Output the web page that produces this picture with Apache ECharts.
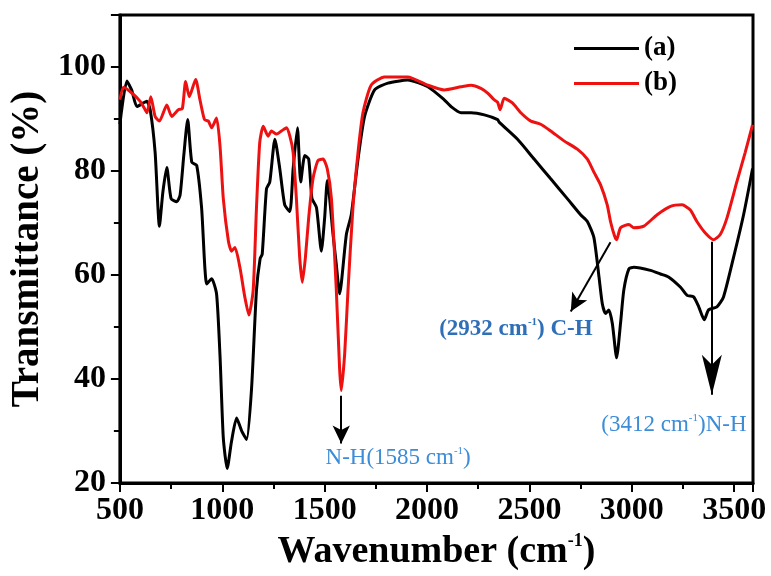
<!DOCTYPE html>
<html>
<head>
<meta charset="utf-8">
<script src="https://cdn.jsdelivr.net/npm/echarts@6/dist/echarts.min.js"></script>
<style>
	html, body { margin: 0; padding: 0; background: #fff; }
	#chart { width: 771px; height: 576px; }
</style>
</head>
<body>
<div id="chart"></div>
<script>
// FTIR spectra, [wavenumber cm-1, transmittance %]
const spectrumA = [
	[500, 89], [534, 97.3], [558, 95.5], [583, 92.4], [615, 93.1], [631, 93.4], [648, 91.8],
	[672, 83.6], [693, 69.4], [710, 76], [729, 80.7], [750, 74.7], [778, 74.1], [794, 75.4],
	[812, 83], [831, 89.9], [851, 81.7], [875, 81.1], [899, 72.9], [924, 58.3], [948, 59.3],
	[972, 56.4], [989, 44.4], [1005, 28.7], [1024, 22.8], [1045, 28], [1070, 32.5], [1095, 30],
	[1119, 28.4], [1143, 38.2], [1167, 57.1], [1185, 63.2], [1195, 64], [1216, 76.6], [1232, 77.9],
	[1257, 86.1], [1281, 80.4], [1305, 73.5], [1330, 72.2], [1346, 80.4], [1367, 88.3], [1383, 77.9],
	[1403, 83.0], [1422, 82.3], [1438, 74.7], [1460, 73], [1484, 64.6], [1500, 71.0], [1513, 78.2],
	[1541, 67.8], [1557, 62], [1573, 56.4], [1606, 67.8], [1630, 71.6], [1663, 82.3], [1695, 90.5],
	[1744, 95.6], [1809, 96.9], [1906, 97.5], [2004, 96.2], [2084, 93.7], [2117, 92.4], [2166, 91.2],
	[2215, 91.2], [2280, 90.8], [2345, 89.9], [2352, 89.4], [2442, 86.1], [2523, 82.3], [2604, 78.5],
	[2685, 74.7], [2750, 71.6], [2783, 70.3], [2815, 67.2], [2840, 59.6], [2856, 54.5], [2872, 52.6],
	[2888, 53.3], [2905, 50.7], [2926, 44.1], [2945, 50.7], [2961, 57.1], [2986, 61.2], [3010, 61.5],
	[3091, 60.9], [3140, 60.2], [3181, 59.6], [3237, 57.7], [3270, 56.1], [3302, 55.8], [3327, 53.9],
	[3354, 51.4], [3375, 53.3], [3416, 53.9], [3448, 55.8], [3497, 63.4], [3546, 71.6], [3590, 80.5]
];
const spectrumB = [
	[500, 93.7], [518, 96.1], [558, 95.0], [599, 93.4], [623, 91.8], [632, 91.2], [651, 94.3],
	[672, 90.5], [693, 89.6], [729, 92.7], [753, 90.5], [786, 91.8], [805, 92], [821, 97.2],
	[839, 94.3], [870, 97.6], [891, 93.7], [913, 89.9], [932, 89.6], [948, 88.3], [972, 90.2],
	[989, 84.8], [1005, 74.7], [1030, 66.5], [1045, 64.6], [1062, 65.3], [1086, 61.5], [1110, 55.8],
	[1130, 52.3], [1151, 57.1], [1167, 72.9], [1183, 85.5], [1200, 88.6], [1224, 86.7], [1240, 87.7],
	[1265, 87.1], [1289, 87.7], [1313, 88.3], [1330, 86.7], [1346, 83.6], [1362, 74.7], [1378, 63.4],
	[1391, 58.6], [1406, 63.4], [1422, 71.0], [1443, 78.5], [1467, 82.0], [1492, 82.3], [1513, 80.4],
	[1533, 74.7], [1557, 57.1], [1573, 42], [1581, 37.8], [1598, 45], [1614, 57.1], [1638, 72.9],
	[1663, 83.6], [1687, 91.2], [1727, 96.5], [1792, 98.1], [1906, 98.1], [2004, 96.5], [2084, 95.6],
	[2166, 96.2], [2215, 96.5], [2263, 95.9], [2296, 95.0], [2328, 93.7], [2345, 93.2], [2357, 91.8],
	[2377, 94.0], [2417, 93.1], [2458, 91.2], [2507, 89.6], [2555, 89.0], [2604, 87.7], [2669, 85.8],
	[2734, 84.2], [2783, 82.3], [2815, 79.8], [2848, 77.3], [2880, 73.5], [2896, 70.3], [2916, 67.5],
	[2926, 66.8], [2945, 69.1], [2986, 69.7], [3010, 69.1], [3059, 69.4], [3124, 71.6], [3189, 73.2],
	[3246, 73.5], [3286, 72.5], [3318, 70.3], [3359, 68.1], [3400, 66.8], [3432, 67.8], [3465, 71.0],
	[3513, 77.9], [3554, 83.6], [3590, 88.9]
];
const seriesNames = ['(a)', '(b)'];

// arrows: [from, to] in data coordinates
const arrowLines = [
	[[1581, 36.8], [1581, 27.6]],
	[[2896, 66.3], [2702, 53.0]],
	[[3391, 66.4], [3391, 37.0]]
];
// annotation texts: [wavenumber, transmittance, main text, sup, tail]
const peakLabels = [
	[1859, 24.9, 'N-H(1585 cm', '-1', ')'],
	[2434, 49.7, '(2932 cm', '-1', ') C-H'],
	[3206, 31.2, '(3412 cm', '-1', ')N-H']
];

const serif = '"Liberation Serif", "Times New Roman", serif';
const chart = echarts.init(document.getElementById('chart'), null, { renderer: 'canvas' });

const labelColors = ['#3c8cd8', '#2e6fb8', '#3c8cd8'];
const labelWeights = ['normal', 'bold', 'normal'];

const option = {
	animation: false,
	backgroundColor: '#fff',
	grid: {
		left: 118, right: 18, top: 15, bottom: 87,
		show: true, borderColor: '#000', borderWidth: 3, backgroundColor: 'transparent'
	},
	legend: {
		orient: 'vertical',
		left: 569, top: 30,
		itemWidth: 65, itemHeight: 3, itemGap: 8,
		icon: 'rect',
		data: seriesNames,
		textStyle: { fontFamily: serif, fontWeight: 'bold', fontSize: 27, color: '#000' }
	},
	xAxis: {
		type: 'value', min: 500, max: 3592, interval: 500,
		name: '{t|Wavenumber (cm}{s|-1}{t|)}',
		nameLocation: 'middle', nameGap: 36,
		nameTextStyle: {
			rich: {
				t: { fontFamily: serif, fontWeight: 'bold', fontSize: 38, color: '#000', lineHeight: 40 },
				s: { fontFamily: serif, fontWeight: 'bold', fontSize: 18, color: '#000', verticalAlign: 'top', lineHeight: 40 }
			}
		},
		axisLine: { lineStyle: { color: '#000', width: 3 } },
		axisTick: { inside: false, length: 9, lineStyle: { color: '#000', width: 2 } },
		minorTick: { show: true, splitNumber: 2, length: 6, lineStyle: { color: '#000', width: 2 } },
		splitLine: { show: false },
		axisLabel: {
			showMaxLabel: false, margin: 12,
			fontFamily: serif, fontWeight: 'bold', fontSize: 32, color: '#000',
			formatter: function (v) { return String(v); }
		}
	},
	yAxis: {
		type: 'value', min: 20, max: 110, interval: 20,
		name: 'Transmittance (%)',
		nameLocation: 'middle', nameGap: 68, nameRotate: 90,
		nameTextStyle: { fontFamily: serif, fontWeight: 'bold', fontSize: 39, color: '#000' },
		axisLine: { lineStyle: { color: '#000', width: 3 } },
		axisTick: { inside: false, length: 9, lineStyle: { color: '#000', width: 2 } },
		minorTick: { show: true, splitNumber: 2, length: 6, lineStyle: { color: '#000', width: 2 } },
		splitLine: { show: false },
		axisLabel: { showMaxLabel: false, margin: 14, fontFamily: serif, fontWeight: 'bold', fontSize: 32, color: '#000' }
	},
	series: [
		{
			name: seriesNames[0],
			type: 'line',
			data: spectrumA,
			showSymbol: false,
			smooth: 0.2,
			color: '#000',
			lineStyle: { color: '#000', width: 3 },
			z: 3
		},
		{
			name: seriesNames[1],
			type: 'line',
			data: spectrumB,
			showSymbol: false,
			smooth: 0.2,
			color: '#ee1111',
			lineStyle: { color: '#ee1111', width: 3 },
			z: 4,
			markLine: {
				silent: true,
				animation: false,
				label: { show: false },
				lineStyle: { color: '#000', width: 2, type: 'solid' },
				data: arrowLines.map(function (a, i) {
					return [
						{ coord: a[0], symbol: 'none' },
						{ coord: a[1], symbol: 'arrow', symbolSize: i === 2 ? [15, 40] : [13, 18] }
					];
				})
			},
			markPoint: {
				silent: true,
				animation: false,
				symbol: 'rect',
				symbolSize: 1,
				itemStyle: { color: 'transparent' },
				label: { show: true, position: 'inside' },
				data: peakLabels.map(function (p, i) {
					return {
						coord: [p[0], p[1]],
						label: {
							show: true,
							position: 'inside',
							formatter: '{t|' + p[2] + '}{s|' + p[3] + '}{t|' + p[4] + '}',
							rich: {
								t: { fontFamily: serif, fontWeight: labelWeights[i], fontSize: 23, color: labelColors[i], lineHeight: 24 },
								s: { fontFamily: serif, fontWeight: labelWeights[i], fontSize: 11, color: labelColors[i], verticalAlign: 'top', lineHeight: 24 }
							}
						}
					};
				})
			}
		}
	]
};

chart.setOption(option);
</script>
</body>
</html>
